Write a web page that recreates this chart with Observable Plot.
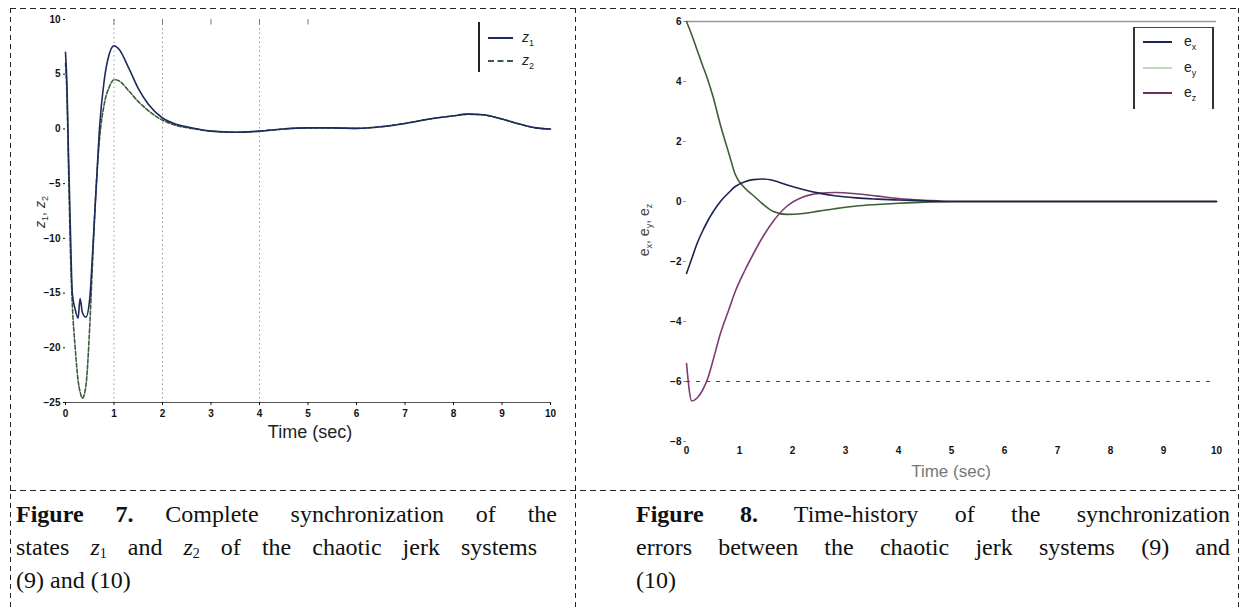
<!DOCTYPE html>
<html>
<head>
<meta charset="utf-8">
<script src="https://cdn.jsdelivr.net/npm/d3@7"></script>
<script src="https://cdn.jsdelivr.net/npm/@observablehq/plot@0.6"></script>
<style>
  html, body { margin: 0; padding: 0; background: #fff; }
  body { width: 1244px; height: 608px; overflow: hidden; position: relative; font-family: "Liberation Serif", "Times New Roman", serif; }
  .abs { position: absolute; }
  .hd { position: absolute; height: 1px; background: repeating-linear-gradient(to right, #222 0 6px, transparent 6px 10px); }
  .vd { position: absolute; width: 1px; background: repeating-linear-gradient(to bottom, #222 0 5px, transparent 5px 9px); }
  .cap { position: absolute; font-size: 24px; line-height: 33px; color: #111; white-space: nowrap; }
  .cap .j { text-align: justify; text-align-last: justify; }
  .cap sub { font-size: 14px; vertical-align: -3px; line-height: 0; }
  .lbl { position: absolute; font-family: "Liberation Sans", Arial, sans-serif; white-space: nowrap; }
  .rot { transform: translate(-50%, -50%) rotate(-90deg); }
  .lg sub { font-size: 9px; }
</style>
</head>
<body>
<div id="plot1" class="abs" style="left:0;top:0"></div>
<div id="plot2" class="abs" style="left:578px;top:0"></div>

<!-- axis labels -->
<div class="lbl" style="left:310px;top:432px;transform:translate(-50%,-50%);font-size:18px;color:#222;">Time (sec)</div>
<div class="lbl" style="left:951px;top:472px;transform:translate(-50%,-50%);font-size:17px;color:#777;">Time (sec)</div>
<div class="lbl rot" style="left:41px;top:212px;font-size:14px;color:#333;"><i>z</i><sub style="font-size:9px">1</sub>, <i>z</i><sub style="font-size:9px">2</sub></div>
<div class="lbl rot" style="left:645px;top:230px;font-size:14px;color:#444;">e<sub style="font-size:9px">x</sub>, e<sub style="font-size:9px">y</sub>, e<sub style="font-size:9px">z</sub></div>

<!-- legend 1 -->
<div class="abs" style="left:478px;top:22px;width:60px;height:50px;border-left:2px solid #222;"></div>
<div class="abs" style="left:488px;top:37px;width:25px;border-top:2px solid #1f2a5c;"></div>
<div class="abs" style="left:488px;top:60px;width:25px;border-top:2px dashed #3c5a3c;"></div>
<div class="lbl lg" style="left:522px;top:29px;font-size:14px;color:#222;"><i>z</i><sub>1</sub></div>
<div class="lbl lg" style="left:522px;top:52px;font-size:14px;color:#222;"><i>z</i><sub>2</sub></div>

<!-- legend 2 -->
<div class="abs" style="left:1133px;top:27px;width:77px;height:81px;border-left:2px solid #333;border-right:2px solid #333;border-top:1.5px solid #444;"></div>
<div class="abs" style="left:1143px;top:41px;width:29px;border-top:2px solid #1c2550;"></div>
<div class="abs" style="left:1143px;top:67px;width:29px;border-top:2px solid #b9dbb9;"></div>
<div class="abs" style="left:1143px;top:92px;width:29px;border-top:2px solid #6e2f60;"></div>
<div class="lbl lg" style="left:1184px;top:33px;font-size:14px;color:#222;">e<sub>x</sub></div>
<div class="lbl lg" style="left:1184px;top:59px;font-size:14px;color:#222;">e<sub>y</sub></div>
<div class="lbl lg" style="left:1184px;top:84px;font-size:14px;color:#222;">e<sub>z</sub></div>

<!-- table dashed lines -->
<div class="hd" style="left:10px;top:8px;width:1229px;"></div>
<div class="hd" style="left:10px;top:490px;width:1229px;"></div>
<div class="vd" style="left:10px;top:8px;height:600px;"></div>
<div class="vd" style="left:575px;top:8px;height:600px;"></div>
<div class="vd" style="left:1238px;top:8px;height:600px;"></div>

<!-- captions -->
<div class="cap" style="left:16px;top:498px;">
  <div class="j" style="width:541px;"><b>Figure 7.</b> Complete synchronization of the</div>
  <div class="j" style="width:521px;">states <i>z</i><sub>1</sub> and <i>z</i><sub>2</sub> of the chaotic jerk systems</div>
  <div>(9) and (10)</div>
</div>
<div class="cap" style="left:636px;top:498px;">
  <div class="j" style="width:594px;"><b>Figure 8.</b> Time-history of the synchronization</div>
  <div class="j" style="width:594px;">errors between the chaotic jerk systems (9) and</div>
  <div>(10)</div>
</div>

<script>
// ---------- Figure 7 data ----------
const time1 = [0, 0.03, 0.06, 0.1, 0.14, 0.2, 0.26, 0.3, 0.35, 0.42, 0.5, 0.55, 0.6, 0.65, 0.7, 0.8, 0.9, 1.0, 1.1, 1.3, 1.5, 1.7, 2.0, 2.3, 2.6, 3.0, 3.5, 4.0, 4.5, 5.0, 5.5, 6.0, 6.5, 7.0, 7.5, 8.0, 8.3, 8.6, 9.0, 9.4, 9.7, 10];
const z1Values = [7.0, 4.0, -2.0, -9.0, -15.0, -16.5, -17.3, -15.5, -16.8, -17.2, -15.5, -12.0, -8.0, -4.0, 0.0, 4.5, 6.8, 7.6, 7.3, 5.6, 3.7, 2.3, 1.0, 0.4, 0.1, -0.2, -0.3, -0.2, 0.0, 0.1, 0.1, 0.05, 0.2, 0.5, 0.9, 1.2, 1.35, 1.3, 0.9, 0.4, 0.1, 0.0];
const z2Values = [6.0, 3.0, -3.0, -11.0, -16.0, -20.0, -23.0, -24.0, -24.6, -23.5, -18.0, -13.0, -8.0, -4.0, -1.0, 2.3, 3.8, 4.5, 4.4, 3.5, 2.5, 1.7, 0.8, 0.3, 0.05, -0.2, -0.3, -0.2, 0.0, 0.1, 0.1, 0.05, 0.2, 0.5, 0.9, 1.2, 1.35, 1.3, 0.9, 0.4, 0.1, 0.0];
const xTicks1 = [0, 1, 2, 3, 4, 5, 6, 7, 8, 9, 10];
const yTicks1 = [-25, -20, -15, -10, -5, 0, 5, 10];
const gridTimes1 = [1, 2, 4];
const topTicks1 = [1, 2, 3, 4, 5];

// ---------- Figure 8 data ----------
const time2 = [0, 0.1, 0.2, 0.3, 0.4, 0.5, 0.64, 0.8, 0.92, 1.1, 1.26, 1.45, 1.64, 1.9, 2.2, 2.5, 2.8, 3.2, 3.6, 4.0, 4.5, 5.0, 6, 7, 8, 9, 10];
const exValues = [-2.4, -1.9, -1.4, -1.0, -0.65, -0.35, 0.0, 0.3, 0.5, 0.66, 0.73, 0.75, 0.7, 0.55, 0.4, 0.28, 0.19, 0.12, 0.08, 0.05, 0.02, 0, 0, 0, 0, 0, 0];
const eyValues = [6.0, 5.55, 5.05, 4.55, 4.07, 3.5, 2.55, 1.6, 0.9, 0.45, 0.2, -0.1, -0.33, -0.43, -0.4, -0.32, -0.24, -0.15, -0.1, -0.06, -0.02, 0, 0, 0, 0, 0, 0];
const ezValues = [-5.4, -6.65, -6.55, -6.3, -5.9, -5.3, -4.4, -3.6, -3.0, -2.3, -1.75, -1.15, -0.65, -0.15, 0.15, 0.27, 0.3, 0.26, 0.18, 0.1, 0.04, 0, 0, 0, 0, 0, 0];
const xTicks2 = [0, 1, 2, 3, 4, 5, 6, 7, 8, 9, 10];
const yTicks2 = [-8, -6, -4, -2, 0, 2, 4, 6];

const z1Data = time1.map((t, i) => ({t, v: z1Values[i]}));
const z2Data = time1.map((t, i) => ({t, v: z2Values[i]}));
const exData = time2.map((t, i) => ({t, v: exValues[i]}));
const eyData = time2.map((t, i) => ({t, v: eyValues[i]}));
const ezData = time2.map((t, i) => ({t, v: ezValues[i]}));

const plot1 = Plot.plot({
  width: 575, height: 460,
  marginLeft: 65, marginRight: 25, marginTop: 19, marginBottom: 58,
  style: {fontFamily: "Liberation Sans, Arial, sans-serif", fontSize: "10px", color: "#111", background: "transparent"},
  x: {domain: [0, 10]},
  y: {domain: [-25, 10]},
  marks: [
    Plot.ruleX(gridTimes1, {stroke: "#999", strokeDasharray: "1.5,3", strokeWidth: 1}),
    Plot.ruleX(topTicks1, {y1: 10, y2: 9.5, stroke: "#777"}),
    Plot.ruleY([-25], {stroke: "#555", strokeWidth: 1.2}),
    Plot.axisX({ticks: xTicks1, tickSize: 3, tickPadding: 4, label: null, fontWeight: "bold"}),
    Plot.axisY({ticks: yTicks1, tickSize: 2, tickPadding: 3, label: null, fontWeight: "bold"}),
    Plot.line(z2Data, {x: "t", y: "v", stroke: "#3c5a3c", strokeWidth: 1.6, strokeDasharray: "4,2", curve: "monotone-x"}),
    Plot.line(z1Data, {x: "t", y: "v", stroke: "#1f2a5c", strokeWidth: 1.6, curve: "monotone-x"})
  ]
});
document.getElementById("plot1").appendChild(plot1);

const plot2 = Plot.plot({
  width: 666, height: 490,
  marginLeft: 108, marginRight: 28, marginTop: 21, marginBottom: 49,
  style: {fontFamily: "Liberation Sans, Arial, sans-serif", fontSize: "10px", color: "#111", background: "transparent"},
  x: {domain: [0, 10]},
  y: {domain: [-8, 6]},
  marks: [
    Plot.ruleY([6], {stroke: "#999", strokeWidth: 1.5}),
    Plot.ruleY([-6], {stroke: "#444", strokeDasharray: "4,6", strokeWidth: 1.2}),
    Plot.axisX({ticks: xTicks2, tickSize: 0, tickPadding: 5, label: null, fontWeight: "bold"}),
    Plot.axisY({ticks: yTicks2, tickSize: 3, tickPadding: 2, label: null, fontWeight: "bold", stroke: "#999"}),
    Plot.line(ezData, {x: "t", y: "v", stroke: "#7e3a72", strokeWidth: 1.6, curve: "monotone-x"}),
    Plot.line(eyData, {x: "t", y: "v", stroke: "#3b5e33", strokeWidth: 1.6, curve: "monotone-x"}),
    Plot.line(exData, {x: "t", y: "v", stroke: "#1c2550", strokeWidth: 1.6, curve: "monotone-x"})
  ]
});
document.getElementById("plot2").appendChild(plot2);
</script>
</body>
</html>
